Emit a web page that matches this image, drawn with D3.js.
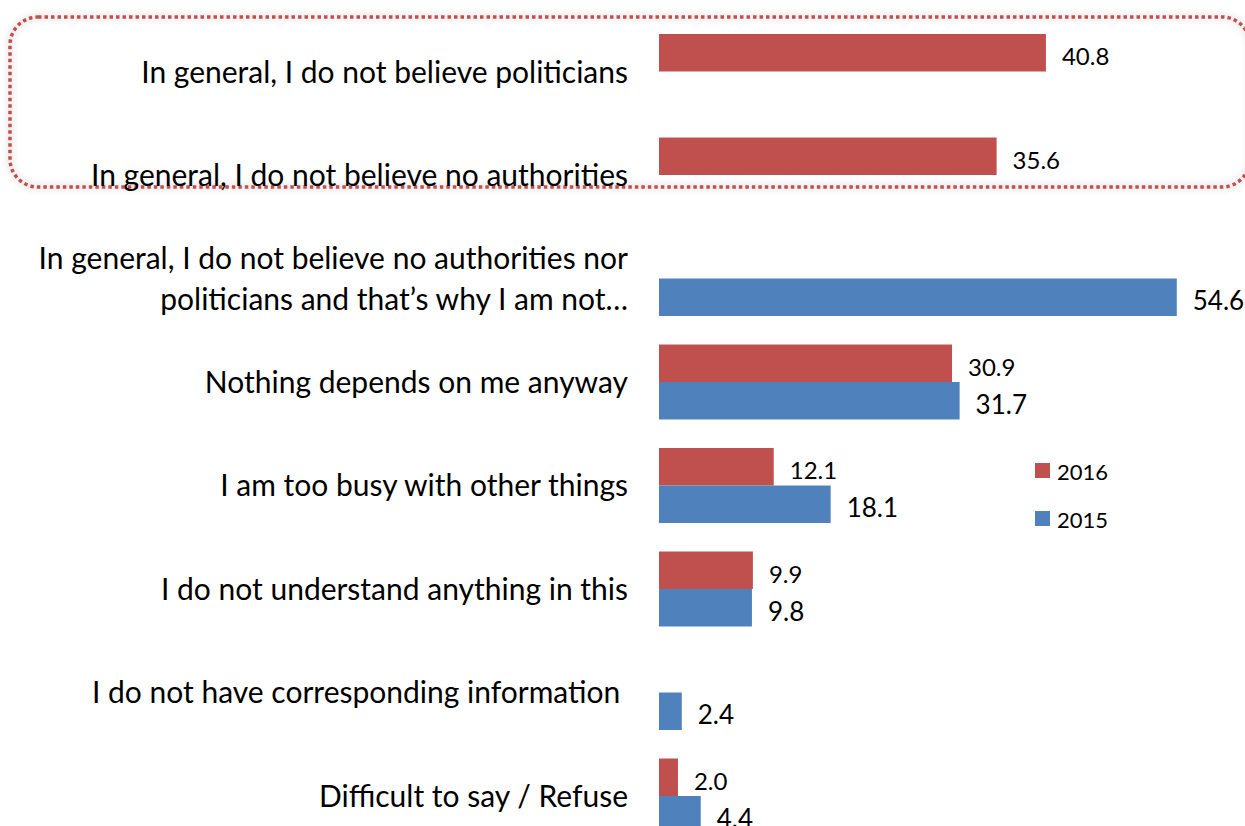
<!DOCTYPE html>
<html>
<head>
<meta charset="utf-8">
<script src="https://cdn.jsdelivr.net/npm/d3@7"></script>
<style>
  html, body { margin: 0; padding: 0; background: #fff; }
  svg { display: block; font-family: Lato, "Open Sans", sans-serif; }
</style>
</head>
<body>
<svg id="chart" width="1245" height="826"></svg>
<script>
const categories = [
  "In general, I do not believe politicians",
  "In general, I do not believe no authorities",
  "In general, I do not believe no authorities nor politicians and that’s why I am not…",
  "Nothing depends on me anyway",
  "I am too busy with other things",
  "I do not understand anything in this",
  "I do not have corresponding information",
  "Difficult to say / Refuse"
];
const categoryLines = [
  ["In general, I do not believe politicians"],
  ["In general, I do not believe no authorities"],
  ["In general, I do not believe no authorities nor", "politicians and that’s why I am not…"],
  ["Nothing depends on me anyway"],
  ["I am too busy with other things"],
  ["I do not understand anything in this"],
  ["I do not have corresponding information\u00a0"],
  ["Difficult to say / Refuse"]
];
const seriesNames = ["2016", "2015"];
const values2016 = [40.8, 35.6, null, 30.9, 12.1, 9.9, null, 2.0];
const values2015 = [null, null, 54.6, 31.7, 18.1, 9.8, 2.4, 4.4];
const colors = { "2016": "#C0504D", "2015": "#4F81BD" };

const svg = d3.select("#chart");

// shadow filter for highlight box
const defs = svg.append("defs");
const f = defs.append("filter").attr("id", "glow").attr("x", "-5%").attr("y", "-20%").attr("width", "110%").attr("height", "140%");
f.append("feGaussianBlur").attr("in", "SourceAlpha").attr("stdDeviation", 3.5).attr("result", "b");
f.append("feFlood").attr("flood-color", "#000").attr("flood-opacity", 0.3);
f.append("feComposite").attr("in2", "b").attr("operator", "in").attr("result", "s");
const m = f.append("feMerge");
m.append("feMergeNode").attr("in", "s");
m.append("feMergeNode").attr("in", "SourceGraphic");

// highlight dotted rounded rectangle
svg.append("rect")
  .attr("x", 10).attr("y", 17).attr("width", 1240).attr("height", 170)
  .attr("rx", 28).attr("ry", 28)
  .attr("fill", "none")
  .attr("stroke", "#C0504D")
  .attr("stroke-width", 3.5)
  .attr("stroke-dasharray", "3.5,3")
  .attr("filter", "url(#glow)");

const x = d3.scaleLinear().domain([0, 60]).range([659, 1228]);
const y = d3.scaleBand().domain(categories).range([5.5, 862]).paddingInner(0.2754).paddingOuter(0.2754);
const ySub = d3.scaleBand().domain(seriesNames).range([0, y.bandwidth()]);

const rows = categories.map((c, i) => ({ cat: c, i, vals: { "2016": values2016[i], "2015": values2015[i] } }));

const g = svg.append("g");
rows.forEach(r => {
  seriesNames.forEach(s => {
    const v = r.vals[s];
    if (v == null) return;
    const y0 = y(r.cat) + ySub(s);
    g.append("rect")
      .attr("x", x(0)).attr("y", y0)
      .attr("width", x(v) - x(0)).attr("height", ySub.bandwidth())
      .attr("fill", colors[s]);
    g.append("text")
      .attr("x", x(v) + 16)
      .attr("y", y0 + ySub.bandwidth() / 2 + 3)
      .attr("dominant-baseline", "central")
      .attr("font-size", s === "2016" ? 24 : 26)
      .attr("fill", "#000")
      .text(v.toFixed(1));
  });
  // category label
  const lines = categoryLines[r.i];
  const cy = y(r.cat) + y.bandwidth() / 2 - 1;
  const lh = 41;
  lines.forEach((ln, k) => {
    svg.append("text")
      .attr("x", 628)
      .attr("y", cy + (k - (lines.length - 1) / 2) * lh)
      .attr("text-anchor", "end")
      .attr("dominant-baseline", "central")
      .attr("font-size", 30)
      .attr("fill", "#000")
      .style("white-space", "pre")
      .text(ln);
  });
});

// legend
const legend = svg.append("g");
const legendY = { "2016": 470.5, "2015": 518.5 };
seriesNames.forEach(s => {
  legend.append("rect").attr("x", 1035).attr("y", legendY[s] - 7.5).attr("width", 15).attr("height", 15).attr("fill", colors[s]);
  legend.append("text").attr("x", 1057).attr("y", legendY[s] + 1)
    .attr("dominant-baseline", "central").attr("font-size", 22).attr("fill", "#000").text(s);
});
</script>
</body>
</html>
